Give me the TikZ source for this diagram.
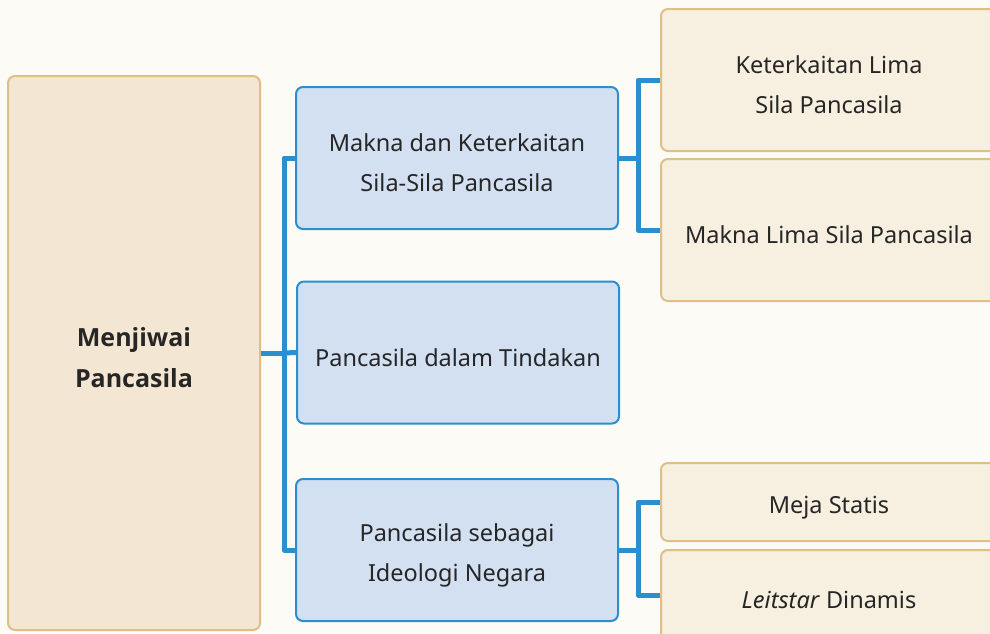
\documentclass[tikz,border=0pt]{standalone}
\usepackage{fontspec}
\setmainfont{Noto Sans}
\newfontfamily\headfont{Open Sans}
\newcommand\lift{\rule{0pt}{28pt}}
\definecolor{paper}{HTML}{FCFBF6}
\definecolor{rootfill}{HTML}{F3E6D3}
\definecolor{tanline}{HTML}{DFBF87}
\definecolor{topicfill}{HTML}{D2E0F1}
\definecolor{blueline}{HTML}{2B8FCE}
\definecolor{leaffill}{HTML}{F7EFE0}
\definecolor{ink}{HTML}{262626}

\begin{document}
\begin{tikzpicture}[x = 1pt, y = -1pt, line join = round,
  card/.style = {draw, rounded corners = 7pt, line width = 2pt, align = center,
    inner sep = 0pt, text = ink, font = \fontsize{23.5}{40}\selectfont},
  rootbox/.style = {card, fill = rootfill, draw = tanline,
    font = \fontsize{25}{41}\selectfont\headfont\bfseries,
    minimum width = 252pt, minimum height = 554pt},
  topicbox/.style = {card, fill = topicfill, draw = blueline,
    minimum width = 322pt, minimum height = 142pt},
  leafbox/.style = {card, fill = leaffill, draw = tanline, minimum width = 336pt},
  link/.style = {draw = blueline, line width = 5pt}]
  \clip (0, 0) rectangle (990, 633);
  \fill[paper] (0, 0) rectangle (990, 633);

  \node[rootbox] (root) at (134, 353) {\lift Menjiwai\\Pancasila};

  \node[topicbox] (makna) at (457, 158)
    {\lift Makna dan Keterkaitan\\Sila-Sila Pancasila};
  \node[topicbox] (tindak) at (458, 352.5) {\lift Pancasila dalam Tindakan};
  \node[topicbox] (ideo) at (457, 550)
    {\lift Pancasila sebagai\\Ideologi Negara};

  \node[leafbox, minimum height = 142pt] (kaitan) at (829, 80)
    {\lift Keterkaitan Lima\\Sila Pancasila};
  \node[leafbox, minimum height = 142pt] (lima) at (829, 230)
    {\lift Makna Lima Sila Pancasila};
  \node[leafbox, minimum height = 78pt] (statis) at (829, 502)
    {\lift Meja Statis};
  \node[leafbox, minimum height = 90pt] (dinamis) at (829, 595)
    {\lift\textit{Leitstar} Dinamis};

  % first level
  \draw[link] (root.east) -- ++(23, 0) coordinate (J0);
  \draw[link] (makna.west) -| (J0) |- (ideo.west);
  \draw[link] (J0) -- (tindak.west);

  % second level
  \draw[link] (makna.east) -- ++(19, 0) coordinate (J1);
  \draw[link] (kaitan.west) -| (J1) |- (lima.west);
  \draw[link] (ideo.east) -- ++(19, 0) coordinate (J2);
  \draw[link] (statis.west) -| (J2) |- (dinamis.west);
\end{tikzpicture}
\end{document}
